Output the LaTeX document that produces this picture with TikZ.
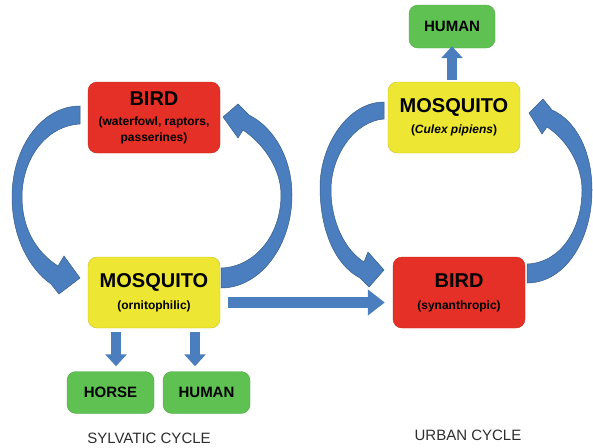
\documentclass[tikz,border=0pt]{standalone}
\usepackage{fontspec}
\setmainfont{Liberation Sans}
\usetikzlibrary{arrows.meta,calc}
\definecolor{cred}{RGB}{228,48,38}
\definecolor{cyel}{RGB}{237,230,50}
\definecolor{cgrn}{RGB}{95,193,82}
\definecolor{cblu}{RGB}{74,126,190}
\definecolor{cbld}{RGB}{56,93,138}
\definecolor{ccap}{RGB}{45,45,45}
\newcommand\Tbig[1]{{\fontsize{20}{22}\selectfont #1}}
\begin{document}
\begin{tikzpicture}[x=1pt,y=-1pt,
  box/.style={rounded corners=9pt, inner sep=0pt, align=center, text=black,
    font=\bfseries\fontsize{12}{16}\selectfont},
  bigbox/.style={box, minimum width=132pt, minimum height=71pt},
  hostbox/.style={box, fill=cgrn, draw=cgrn!85!black, line width=0.4pt,
    minimum width=87pt, minimum height=42pt, font=\bfseries\fontsize{15}{18}\selectfont},
  blk/.style={line width=10.5pt, draw=cblu,
    -{Triangle[width=21pt,length=12pt]}},
  blkh/.style={line width=11pt, draw=cblu,
    -{Triangle[width=25pt,length=17pt]}},
  curv/.style={fill=cblu, draw=cbld, line width=0.5pt},
  captext/.style={text=ccap, font=\fontsize{15}{18}\selectfont}
]
\useasboundingbox (0,0) rectangle (593,447);

% boxes
\node[bigbox, fill=cred, draw=cred!85!black] (birdL) at (154,117.5)
  {\Tbig{BIRD}\\[4pt] (waterfowl, raptors,\\ passerines)};
\node[bigbox, fill=cyel, draw=cyel!85!black] (mosqL) at (154,292.5)
  {\Tbig{MOSQUITO}\\[6pt] (ornitophilic)};
\node[hostbox] (horse) at (110.5,392.5) {HORSE};
\node[hostbox] (humanL) at (206.5,392.5) {HUMAN};

\node[bigbox, fill=cyel, draw=cyel!85!black] (mosqR) at (454,117.5)
  {\Tbig{MOSQUITO}\\[5pt] (\textit{Culex pipiens})};
\node[bigbox, fill=cred, draw=cred!85!black] (birdR) at (459,292.5)
  {\Tbig{BIRD}\\[6pt] (synanthropic)};
\node[hostbox, minimum width=86pt, minimum height=43pt] (humanT) at (452,26.5) {HUMAN};

% captions
\node[captext] (capS) at (149,438) {SYLVATIC CYCLE};
\node[captext] (capU) at (468,435) {URBAN CYCLE};

% straight block arrows
\draw[blk] ($(mosqL.south -| horse.north)+(5.5,4)$) -- ($(horse.north)+(5.5,-5)$);
\draw[blk] ($(mosqL.south -| humanL.north)+(-11.5,4)$) -- ($(humanL.north)+(-11.5,-5)$);
\draw[blkh] ($(mosqL.east)+(8,10)$) -- ($(birdR.west)+(-8,10)$);
\draw[blk] ($(mosqR.north)+(-2,-2)$) -- ($(humanT.south)+(0,-2)$);

% curved arrows: sylvatic left (bird -> mosquito)
\path[curv] (80,106) .. controls (42,106) and (12,147) .. (12,197)
  .. controls (12,235) and (28,268) .. (51,284)
  -- (59,294) -- (80,278) -- (64,256) -- (58,266)
  .. controls (36,252) and (22,228) .. (22,197)
  .. controls (22,160) and (45,126) .. (80,124) -- cycle;
% sylvatic right (mosquito -> bird)
\path[curv] (221,288) .. controls (260,288) and (292,246) .. (292,195)
  .. controls (292,160) and (275,128) .. (249,115)
  -- (238,104) -- (223,117) -- (238,138) -- (243,130)
  .. controls (265,145) and (281,170) .. (281,195)
  .. controls (281,235) and (255,267) .. (221,268) -- cycle;
% urban left (mosquito -> bird)
\path[curv] (384,102) .. controls (348,102) and (320,145) .. (320,187)
  .. controls (320,230) and (335,265) .. (360,278)
  -- (369,287) -- (384,270) -- (368,252) -- (364,262)
  .. controls (345,250) and (331,222) .. (331,190)
  .. controls (331,155) and (355,121) .. (384,119) -- cycle;
% urban right (bird -> mosquito)
\path[curv] (527,283) .. controls (565,283) and (592,240) .. (592,190)
  .. controls (592,150) and (575,120) .. (552,110)
  -- (543,99) -- (529,113) -- (542,134) -- (547,127)
  .. controls (567,140) and (582,165) .. (582,190)
  .. controls (582,230) and (560,263) .. (527,264) -- cycle;
\end{tikzpicture}
\end{document}
